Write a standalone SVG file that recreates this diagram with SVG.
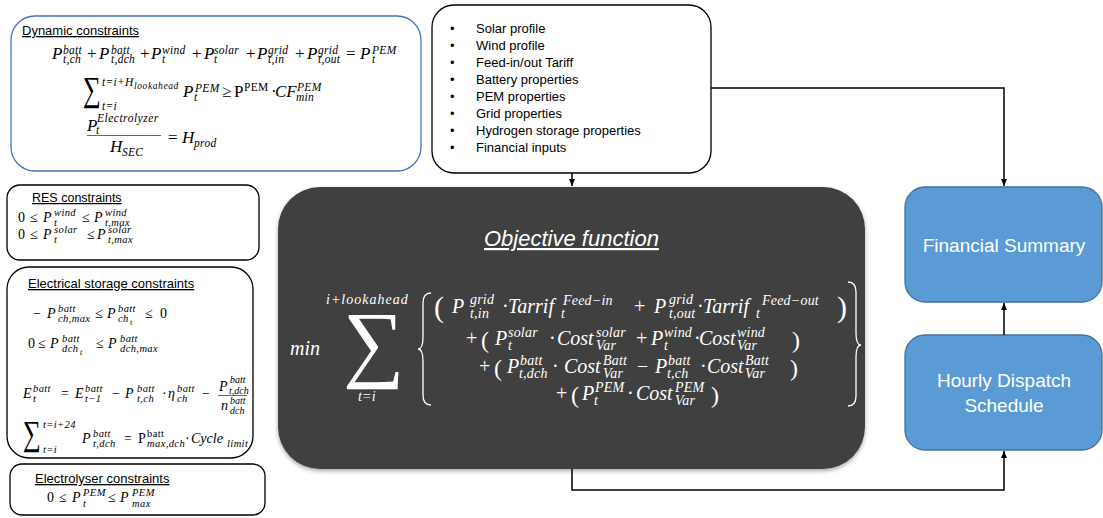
<svg xmlns="http://www.w3.org/2000/svg" width="1103" height="518" viewBox="0 0 1103 518">
  <defs>
    <style>
      .t { font-family: "Liberation Sans", Arial, sans-serif; font-size: 13px; fill: #000; }
      .u { text-decoration: underline; }
      .m { font-family: "Liberation Serif", "Times New Roman", serif; font-style: italic; fill: #000; }
      .r { font-style: normal; }
      .d { font-size: 17px; }
      .ds { font-size: 11.5px; letter-spacing: 0.3px; }
      .dss { font-size: 9.5px; letter-spacing: 0.6px; }
      .b { font-size: 14px; }
      .bs { font-size: 10.5px; letter-spacing: 0.4px; }
      .bss { font-size: 8px; }
      .fs { font-size: 10px; letter-spacing: 0; }
      .o { font-size: 20px; fill: #fff; }
      .os { font-size: 14px; letter-spacing: 0.2px; }
      .box { fill: #fff; stroke: #000; stroke-width: 1.3; }
      .blue { fill: #5b9bd5; stroke: #41719c; stroke-width: 1.3; }
      .lbl { font-family: "Liberation Sans", Arial, sans-serif; font-size: 19px; fill: #fff; text-anchor: middle; }
      .conn { fill: none; stroke: #000; stroke-width: 1.5; }
      .brace { fill: none; stroke: #fff; stroke-width: 1.3; }
      .frac { stroke: #8c5a52; stroke-width: 1; }
    </style>
    <marker id="arrow" markerUnits="userSpaceOnUse" markerWidth="8" markerHeight="7" refX="7" refY="3" orient="auto">
      <path d="M0,0 L7,3 L0,6 z" fill="#000"/>
    </marker>
    <filter id="shadow" x="-5%" y="-5%" width="110%" height="115%">
      <feDropShadow dx="0" dy="2" stdDeviation="2" flood-color="#000" flood-opacity="0.35"/>
    </filter>
  </defs>

  <!-- Dynamic constraints -->
  <g id="dynamic-constraints">
    <rect x="11" y="16" width="410" height="155" rx="24" fill="#fff" stroke="#4472c4" stroke-width="1.3"/>
    <text class="t u" x="22" y="35">Dynamic constraints</text>
    <text class="m d">
      <tspan x="52" y="59">P</tspan><tspan class="ds" x="63" y="54">batt</tspan><tspan class="ds" x="63" y="63">t,ch</tspan>
      <tspan class="r" x="87" y="59">+</tspan>
      <tspan x="99" y="59">P</tspan><tspan class="ds" x="111" y="54">batt</tspan><tspan class="ds" x="111" y="63">t,dch</tspan>
      <tspan class="r" x="140" y="59">+</tspan>
      <tspan x="151" y="59">P</tspan><tspan class="ds" x="162" y="54">wind</tspan><tspan class="ds" x="162" y="63">t</tspan>
      <tspan class="r" x="192" y="59">+</tspan>
      <tspan x="204" y="59">P</tspan><tspan class="ds" x="214" y="54">solar</tspan><tspan class="ds" x="214" y="63">t</tspan>
      <tspan class="r" x="246" y="59">+</tspan>
      <tspan x="257" y="59">P</tspan><tspan class="ds" x="268" y="54">grid</tspan><tspan class="ds" x="268" y="63">t,in</tspan>
      <tspan class="r" x="295" y="59">+</tspan>
      <tspan x="307" y="59">P</tspan><tspan class="ds" x="318" y="54">grid</tspan><tspan class="ds" x="318" y="63">t,out</tspan>
      <tspan class="r" x="346" y="59">=</tspan>
      <tspan x="360" y="59">P</tspan><tspan class="ds" x="372" y="54">PEM</tspan><tspan class="ds" x="372" y="63">t</tspan>
    </text>
    <text class="m r" transform="translate(83,101) scale(0.72,1)" style="font-size:35px">∑</text>
    <text class="m d">
      <tspan class="ds" x="102" y="86">t=i+H</tspan><tspan class="dss" x="134" y="89">lookahead</tspan>
      <tspan class="ds" x="102" y="110">t=i</tspan>
      <tspan x="183" y="97">P</tspan><tspan class="ds" x="195" y="92">PEM</tspan><tspan class="ds" x="194" y="101">t</tspan>
      <tspan class="r" x="222" y="97">≥</tspan>
      <tspan class="r" x="234" y="97">P</tspan><tspan class="ds r" x="244" y="91">PEM</tspan>
      <tspan class="r" x="271" y="97">·</tspan>
      <tspan x="275" y="97">CF</tspan><tspan class="ds" x="297" y="91">PEM</tspan><tspan class="ds" x="296" y="101">min</tspan>
    </text>
    <text class="m d">
      <tspan x="87" y="131">P</tspan><tspan class="ds" x="97" y="122" style="letter-spacing:0.5px">Electrolyzer</tspan><tspan class="ds" x="96" y="134">t</tspan>
      <tspan x="110" y="152">H</tspan><tspan class="ds" x="122" y="156">SEC</tspan>
      <tspan class="r" x="168" y="143">=</tspan>
      <tspan x="182" y="143">H</tspan><tspan class="ds" x="194" y="147">prod</tspan>
    </text>
    <line class="frac" x1="87" y1="135.5" x2="161" y2="135.5"/>
  </g>

  <!-- RES constraints -->
  <g id="res-constraints">
    <rect class="box" x="7" y="185" width="252" height="75" rx="13"/>
    <text class="t u" x="32" y="202" style="font-size:12.5px">RES constraints</text>
    <text class="m b">
      <tspan class="r" x="18" y="222">0</tspan><tspan class="r" x="30" y="222">≤</tspan>
      <tspan x="43" y="222">P</tspan><tspan class="bs" x="54" y="216">wind</tspan><tspan class="bs" x="54" y="226">t</tspan>
      <tspan class="r" x="82" y="222">≤</tspan>
      <tspan x="94" y="222">P</tspan><tspan class="bs" x="105" y="216">wind</tspan><tspan class="bs" x="105" y="226">t,max</tspan>
      <tspan class="r" x="18" y="239">0</tspan><tspan class="r" x="30" y="239">≤</tspan>
      <tspan x="43" y="239">P</tspan><tspan class="bs" x="54" y="233">solar</tspan><tspan class="bs" x="54" y="243">t</tspan>
      <tspan class="r" x="87" y="239">≤</tspan>
      <tspan x="97" y="239">P</tspan><tspan class="bs" x="108" y="233">solar</tspan><tspan class="bs" x="108" y="243">t,max</tspan>
    </text>
  </g>

  <!-- Electrical storage constraints -->
  <g id="storage-constraints">
    <rect class="box" x="7" y="267" width="246" height="191" rx="22"/>
    <text class="t u" x="28" y="288">Electrical storage constraints</text>
    <text class="m b">
      <tspan class="r" x="33" y="318">−</tspan>
      <tspan x="47" y="318">P</tspan><tspan class="bs" x="58" y="312">batt</tspan><tspan class="bs" x="58" y="322">ch,max</tspan>
      <tspan class="r" x="95" y="318">≤</tspan>
      <tspan x="107" y="318">P</tspan><tspan class="bs" x="118" y="312">batt</tspan><tspan class="bs" x="118" y="322">ch</tspan><tspan class="bss" x="130" y="325">t</tspan>
      <tspan class="r" x="145" y="318">≤</tspan><tspan class="r" x="160" y="318">0</tspan>

      <tspan class="r" x="28" y="348">0</tspan><tspan class="r" x="38" y="348">≤</tspan>
      <tspan x="50" y="348">P</tspan><tspan class="bs" x="62" y="342">batt</tspan><tspan class="bs" x="62" y="352">dch</tspan><tspan class="bss" x="80" y="355">t</tspan>
      <tspan class="r" x="96" y="348">≤</tspan>
      <tspan x="108" y="348">P</tspan><tspan class="bs" x="120" y="342">batt</tspan><tspan class="bs" x="120" y="352">dch,max</tspan>

      <tspan x="23" y="398">E</tspan><tspan class="bs" x="33" y="392">batt</tspan><tspan class="bs" x="33" y="402">t</tspan>
      <tspan class="r" x="61" y="398">=</tspan>
      <tspan x="75" y="398">E</tspan><tspan class="bs" x="85" y="392">batt</tspan><tspan class="bs" x="85" y="402">t−1</tspan>
      <tspan class="r" x="112" y="398">−</tspan>
      <tspan x="125" y="398">P</tspan><tspan class="bs" x="137" y="392">batt</tspan><tspan class="bs" x="137" y="402">t,ch</tspan>
      <tspan class="r" x="162" y="398">·</tspan>
      <tspan x="168" y="398">η</tspan><tspan class="bs" x="177" y="392">batt</tspan><tspan class="bs" x="177" y="402">ch</tspan>
      <tspan class="r" x="202" y="398">−</tspan>
      <tspan x="219" y="391">P</tspan><tspan class="bs fs" x="230" y="383">batt</tspan><tspan class="bs fs" x="229" y="394">t,dch</tspan>
      <tspan x="221" y="410">n</tspan><tspan class="bs fs" x="230" y="404">batt</tspan><tspan class="bs fs" x="230" y="414">dch</tspan>

      <tspan class="bs" x="43" y="428">t=i+24</tspan>
      <tspan class="bs" x="43" y="453">t=i</tspan>
      <tspan x="82" y="443">P</tspan><tspan class="bs" x="93" y="437">batt</tspan><tspan class="bs" x="93" y="447">t,dch</tspan>
      <tspan class="r" x="124" y="443">=</tspan>
      <tspan class="r" x="138" y="443">P</tspan><tspan class="bs r" x="147" y="437">batt</tspan><tspan class="bs" x="147" y="447">max,dch</tspan>
      <tspan class="r" x="185" y="443">·</tspan>
      <tspan x="191" y="443">Cycle</tspan><tspan class="bs" x="227" y="447">limit</tspan>
    </text>
    <line class="frac" x1="218" y1="395.5" x2="247" y2="395.5"/>
    <text class="m r" transform="translate(23,445) scale(0.72,1)" style="font-size:35px">∑</text>
  </g>

  <!-- Electrolyser constraints -->
  <g id="electrolyser-constraints">
    <rect class="box" x="10" y="464" width="255" height="51" rx="12"/>
    <text class="t u" x="35" y="483">Electrolyser constraints</text>
    <text class="m b">
      <tspan class="r" x="47" y="502">0</tspan><tspan class="r" x="59" y="502">≤</tspan>
      <tspan x="72" y="502">P</tspan><tspan class="bs" x="83" y="496">PEM</tspan><tspan class="bs" x="83" y="507">t</tspan>
      <tspan class="r" x="108" y="502">≤</tspan>
      <tspan x="120" y="502">P</tspan><tspan class="bs" x="132" y="496">PEM</tspan><tspan class="bs" x="132" y="507">max</tspan>
    </text>
  </g>

  <!-- Inputs -->
  <g id="inputs">
    <rect class="box" x="432" y="5" width="279" height="168" rx="22"/>
    <g class="t">
      <text x="450" y="33">•</text><text x="476" y="33">Solar profile</text>
      <text x="450" y="50">•</text><text x="476" y="50">Wind profile</text>
      <text x="450" y="67">•</text><text x="476" y="67">Feed-in/out Tariff</text>
      <text x="450" y="84">•</text><text x="476" y="84">Battery properties</text>
      <text x="450" y="101">•</text><text x="476" y="101">PEM properties</text>
      <text x="450" y="118">•</text><text x="476" y="118">Grid properties</text>
      <text x="450" y="135">•</text><text x="476" y="135">Hydrogen storage properties</text>
      <text x="450" y="152">•</text><text x="476" y="152">Financial inputs</text>
    </g>
  </g>

  <!-- Objective function -->
  <g id="objective-function">
    <rect x="278" y="187" width="587" height="282" rx="42" fill="#404040" filter="url(#shadow)"/>
    <text class="u" x="484" y="246" font-family="Liberation Sans, Arial, sans-serif" font-size="22" font-style="italic" fill="#fff">Objective function</text>
    <text class="m o" x="290" y="355">min</text>
    <text class="m r o" x="343" y="371" style="font-size:86px">∑</text>
    <text class="m o">
      <tspan class="os" x="326" y="304" style="letter-spacing:1px">i+lookahead</tspan>
      <tspan class="os" x="358" y="401">t=i</tspan>
    </text>
    <path class="brace" d="M431,293 Q423,293 423,303 L423,337 Q423,349 418,349 Q423,349 423,361 L423,395 Q423,405 431,405"/>
    <path class="brace" d="M848,282 Q856,282 856,292 L856,333 Q856,345 861,345 Q856,345 856,357 L856,396 Q856,406 848,406"/>
    <text class="m o">
      <tspan class="r" x="434" y="317" style="font-size:30px">(</tspan>
      <tspan x="452" y="313">P</tspan><tspan class="os" x="470" y="304">grid</tspan><tspan class="os" x="470" y="318">t,in</tspan>
      <tspan class="r" x="502" y="313">·</tspan>
      <tspan x="508" y="313">Tarrif</tspan><tspan class="os" x="561" y="318">t</tspan><tspan class="os" x="563" y="305">Feed−in</tspan>
      <tspan class="r" x="634" y="313">+</tspan>
      <tspan x="654" y="313">P</tspan><tspan class="os" x="669" y="304">grid</tspan><tspan class="os" x="669" y="318">t,out</tspan>
      <tspan class="r" x="697" y="313">·</tspan>
      <tspan x="703" y="313">Tarrif</tspan><tspan class="os" x="756" y="318">t</tspan><tspan class="os" x="762" y="305">Feed−out</tspan>
      <tspan class="r" x="837" y="317" style="font-size:30px">)</tspan>

      <tspan class="r" x="466" y="345">+</tspan><tspan class="r" x="481" y="348" style="font-size:24px">(</tspan>
      <tspan x="495" y="345">P</tspan><tspan class="os" x="508" y="337">solar</tspan><tspan class="os" x="508" y="350">t</tspan>
      <tspan class="r" x="549" y="345">·</tspan>
      <tspan x="557" y="345">Cost</tspan><tspan class="os" x="596" y="337">solar</tspan><tspan class="os" x="596" y="350">Var</tspan>
      <tspan class="r" x="636" y="345">+</tspan>
      <tspan x="651" y="345">P</tspan><tspan class="os" x="664" y="337">wind</tspan><tspan class="os" x="664" y="350">t</tspan>
      <tspan class="r" x="694" y="345">·</tspan>
      <tspan x="699" y="345">Cost</tspan><tspan class="os" x="737" y="337">wind</tspan><tspan class="os" x="737" y="350">Var</tspan>
      <tspan class="r" x="792" y="348" style="font-size:24px">)</tspan>

      <tspan class="r" x="479" y="373">+</tspan><tspan class="r" x="494" y="376" style="font-size:24px">(</tspan>
      <tspan x="507" y="373">P</tspan><tspan class="os" x="520" y="365">batt</tspan><tspan class="os" x="519" y="378">t,dch</tspan>
      <tspan class="r" x="552" y="373">·</tspan>
      <tspan x="564" y="373">Cost</tspan><tspan class="os" x="603" y="365">Batt</tspan><tspan class="os" x="603" y="378">Var</tspan>
      <tspan class="r" x="637" y="373">−</tspan>
      <tspan x="655" y="373">P</tspan><tspan class="os" x="668" y="365">batt</tspan><tspan class="os" x="667" y="378">t,ch</tspan>
      <tspan class="r" x="700" y="373">·</tspan>
      <tspan x="707" y="373">Cost</tspan><tspan class="os" x="745" y="365">Batt</tspan><tspan class="os" x="745" y="378">Var</tspan>
      <tspan class="r" x="790" y="376" style="font-size:24px">)</tspan>

      <tspan class="r" x="556" y="400">+</tspan><tspan class="r" x="571" y="403" style="font-size:24px">(</tspan>
      <tspan x="582" y="400">P</tspan><tspan class="os" x="595" y="392">PEM</tspan><tspan class="os" x="594" y="405">t</tspan>
      <tspan class="r" x="627" y="400">·</tspan>
      <tspan x="636" y="400">Cost</tspan><tspan class="os" x="675" y="392">PEM</tspan><tspan class="os" x="675" y="405">Var</tspan>
      <tspan class="r" x="711" y="403" style="font-size:24px">)</tspan>
    </text>
  </g>

  <!-- Outputs -->
  <g id="financial-summary">
    <rect class="blue" x="905" y="187" width="197" height="115" rx="20"/>
    <text class="lbl" x="1004" y="252">Financial Summary</text>
  </g>
  <g id="hourly-dispatch">
    <rect class="blue" x="905" y="335" width="197" height="115" rx="20"/>
    <text class="lbl" x="1004" y="387">Hourly Dispatch</text>
    <text class="lbl" x="1004" y="412">Schedule</text>
  </g>

  <!-- Connectors -->
  <g id="connectors">
    <path class="conn" d="M572,173 L572,186" marker-end="url(#arrow)"/>
    <path class="conn" d="M711,88 L1004,88 L1004,186" marker-end="url(#arrow)"/>
    <path class="conn" d="M572,469 L572,490 L1004,490 L1004,451" marker-end="url(#arrow)"/>
    <path class="conn" d="M1004,335 L1004,303" marker-end="url(#arrow)"/>
  </g>
</svg>
